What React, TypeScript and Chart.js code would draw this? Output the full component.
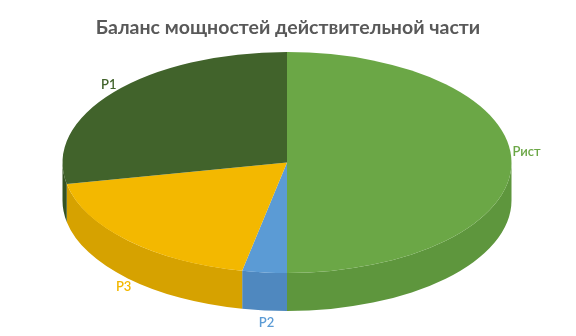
import React, { useEffect, useRef } from "react";
import { Chart, registerables } from "chart.js";

Chart.register(...registerables);

// Data (clockwise from 12 o'clock)
const categories = ["Рист", "P2", "P3", "P1"];
const shares = [50, 3.2, 18.7, 28.1];
const topColors = ["#6BA746", "#5B9BD5", "#F3B800", "#41632B"];
const sideColors = ["#5E963D", "#4F88BF", "#D6A200", "#345222"];
const labelColors = ["#6BA746", "#5B9BD5", "#F3B800", "#41632B"];
const titleText = "Баланс мощностей действительной части";

// Layout of the 3D ellipse
const CX = 287;
const CY = 162.5;
const RX = 224.5;
const RY = 110.5;
const DEPTH = 38;

const pie3d = {
  id: "pie3d",
  beforeDatasetsDraw(chart: any) {
    const meta = chart.getDatasetMeta(0);
    const arcs = meta.data as any[];
    if (!arcs.length) return;
    const ctx: CanvasRenderingContext2D = chart.ctx;
    // side walls (front half: angles 0..PI)
    ctx.save();
    arcs.forEach((arc: any, i: number) => {
      const s = arc.startAngle;
      const e = arc.endAngle;
      const a = Math.max(s, 0);
      const b = Math.min(e, Math.PI);
      if (a < b) {
        ctx.beginPath();
        ctx.ellipse(CX, CY, RX, RY, 0, a, b, false);
        ctx.ellipse(CX, CY + DEPTH, RX, RY, 0, b, a, true);
        ctx.closePath();
        ctx.fillStyle = sideColors[i];
        ctx.fill();
      }
    });
    ctx.restore();
    // squash the pie into an ellipse
    const { x, y, outerRadius } = arcs[0];
    ctx.save();
    ctx.translate(CX, CY);
    ctx.scale(RX / outerRadius, RY / outerRadius);
    ctx.translate(-x, -y);
  },
  afterDatasetsDraw(chart: any) {
    const ctx: CanvasRenderingContext2D = chart.ctx;
    ctx.restore();
    const meta = chart.getDatasetMeta(0);
    const arcs = meta.data as any[];
    ctx.save();
    ctx.font = "600 13px Lato";
    ctx.textBaseline = "middle";
    arcs.forEach((arc: any, i: number) => {
      const mid = (arc.startAngle + arc.endAngle) / 2;
      const c = Math.cos(mid);
      const s = Math.sin(mid);
      const px = CX + RX * c;
      const py = CY + RY * s + (s > 0 ? DEPTH : 0);
      ctx.fillStyle = labelColors[i];
      if (Math.abs(s) < 0.3) {
        ctx.textAlign = c > 0 ? "left" : "right";
        ctx.fillText(categories[i], px + (c > 0 ? 1 : -1), py - 11);
      } else {
        ctx.textAlign = "center";
        ctx.fillText(categories[i], px + c * 10 + 3, py + s * 12);
      }
    });
    ctx.restore();
  },
};

export default function App() {
  const ref = useRef<HTMLCanvasElement>(null);
  useEffect(() => {
    document.body.style.margin = "0";
    const chart = new Chart(ref.current!, {
      type: "pie",
      data: {
        labels: categories,
        datasets: [
          {
            data: shares,
            backgroundColor: topColors,
            borderWidth: 0,
            clip: false as any,
          },
        ],
      },
      options: {
        responsive: false,
        animation: false,
        events: [],
        layout: { padding: 0 },
        plugins: {
          legend: { display: false },
          tooltip: { enabled: false },
          title: {
            display: true,
            text: titleText,
            color: "#595959",
            font: { family: "Lato", size: 19.5, weight: "bold" },
            padding: { top: 16, bottom: 10 },
          },
        },
      },
      plugins: [pie3d],
    });
    return () => chart.destroy();
  }, []);
  return (
    <div style={{ width: 576, height: 336, background: "#fff" }}>
      <canvas ref={ref} width={576} height={336} />
    </div>
  );
}
